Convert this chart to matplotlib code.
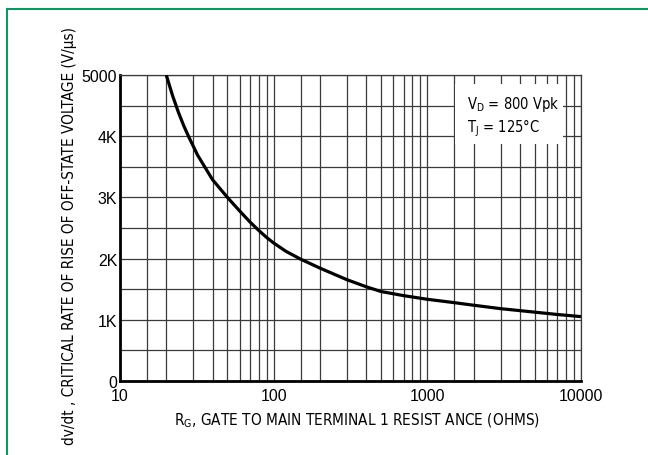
import matplotlib
matplotlib.use("Agg")
import matplotlib.pyplot as plt
from matplotlib.patches import Rectangle
import numpy as np

# values
r_gate = [20, 22, 24, 26, 28, 32, 40, 50, 60, 70, 80, 90, 100, 120, 150, 200,
          250, 300, 400, 500, 700, 1000, 1500, 2000, 3000, 5000, 7000, 10000]
dvdt = [5000, 4660, 4390, 4170, 3990, 3690, 3290, 3000, 2780, 2600, 2460, 2345, 2255,
        2120, 1990, 1845, 1740, 1655, 1540, 1462, 1395, 1335, 1280, 1238, 1182, 1125,
        1087, 1052]

x_major = [10, 100, 1000, 10000]
x_labels = ["10", "100", "1000", "10000"]
y_major = [0, 1000, 2000, 3000, 4000, 5000]
y_labels = ["0", "1K", "2K", "3K", "4K", "5000"]

plain = ["Liberation Sans", "DejaVu Sans"]
green = "#009a5c"
gridc = "#3a3a3a"

fig = plt.figure(figsize=(6.48, 4.56), dpi=100)
ax = fig.add_axes([120/648, 1-382/456, (581-120)/648, (382-76)/456])

ax.set_xscale("log")
ax.set_xlim(10, 10000)
ax.set_ylim(0, 5000)

ax.set_xticks(x_major)
ax.set_xticklabels(x_labels, family=plain, fontsize=11.5)
minors = [m*d for d in [10, 100, 1000] for m in [1.5, 2, 3, 4, 5, 6, 7, 8, 9]]
ax.set_xticks(minors, minor=True)
ax.set_xticklabels([], minor=True)
ax.set_yticks(y_major)
ax.set_yticklabels(y_labels, family=plain, fontsize=11.5)
ax.set_yticks(np.arange(500, 5000, 1000), minor=True)

ax.tick_params(which="both", length=0)
ax.tick_params(axis="x", pad=5)
ax.tick_params(axis="y", pad=2)
ax.grid(True, which="both", color=gridc, lw=0.9)
ax.set_axisbelow(True)

for s in ["left", "bottom"]:
    ax.spines[s].set_linewidth(2)
    ax.spines[s].set_color("black")
for s in ["top", "right"]:
    ax.spines[s].set_linewidth(0.9)
    ax.spines[s].set_color(gridc)

ax.plot(r_gate, dvdt, color="black", lw=2.3, solid_capstyle="butt",
        solid_joinstyle="round", zorder=3)

lab = dict(family="DejaVu Sans", fontstretch="condensed")

# condition box, white so it hides the grid behind it
ax.add_patch(Rectangle((455/648, 1-145/456), 108/648, 60/456, transform=fig.transFigure,
                       facecolor="white", edgecolor="none", zorder=2.5))
fig.text(467/648, 1-105/456, "V$_\\mathregular{D}$ = 800 Vpk", fontsize=10.5,
         va="center", ha="left", zorder=4, **lab)
fig.text(467/648, 1-128/456, "T$_\\mathregular{J}$ = 125°C", fontsize=10.5,
         va="center", ha="left", zorder=4, **lab)

fig.text(357/648, 1-421/456, "R$_\\mathregular{G}$, GATE TO MAIN TERMINAL 1 RESIST ANCE (OHMS)",
         fontsize=11, ha="center", va="center", **lab)
fig.text(70/648, 1-236/456, "dv/dt , CRITICAL RATE OF RISE OF OFF-STATE VOLTAGE (V/\u03bcs)",
         fontsize=11, ha="center", va="center", rotation=90, **lab)

fig.add_artist(Rectangle((7/648, -0.2), 1.2, 1.2 - 10/456, transform=fig.transFigure,
                         fill=False, edgecolor=green, lw=1.4, clip_on=False))

fig.savefig("out.png", dpi=100)
